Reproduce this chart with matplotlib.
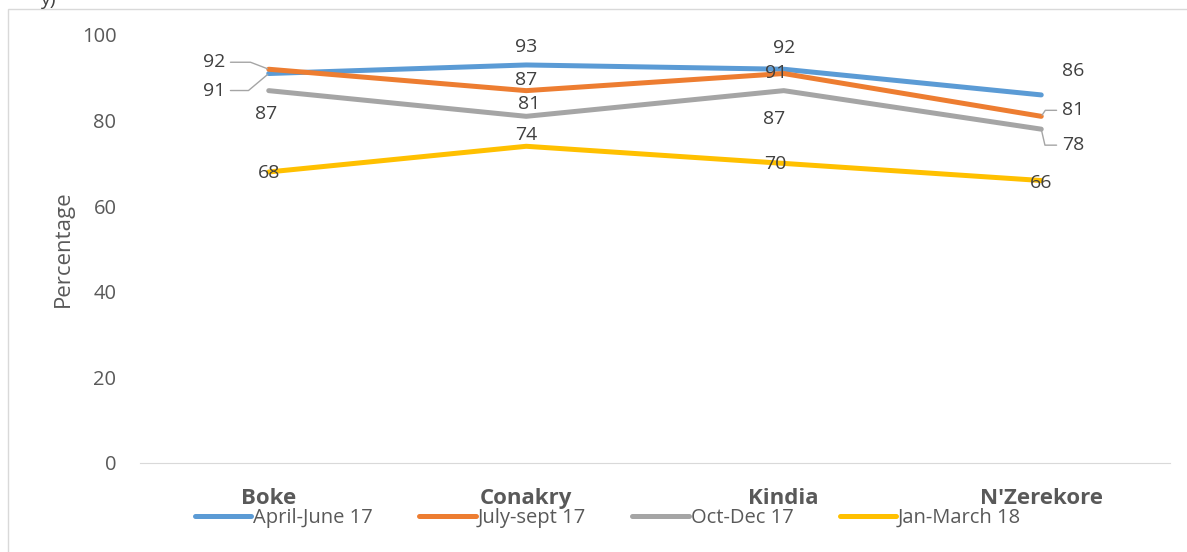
import numpy as np
import matplotlib.pyplot as plt
from matplotlib.patches import Rectangle

plt.rcParams['font.family'] = ['Open Sans', 'DejaVu Sans']

regions = ['Boke', 'Conakry', 'Kindia', "N'Zerekore"]
series_names = ['April-June 17', 'July-sept 17', 'Oct-Dec 17', 'Jan-March 18']
april_june = [91, 93, 92, 86]
july_sept = [92, 87, 91, 81]
oct_dec = [87, 81, 87, 78]
jan_march = [68, 74, 70, 66]

colors = ['#5B9BD5', '#ED7D31', '#A5A5A5', '#FFC000']
# label offsets in pixels (dx, dy) per point, plus leader line angle at the point (None = no leader)
offsets = [
    [(-55, -17, 40), (0, 18, None), (0, 21, None), (32, 24, None)],
    [(-55, 7, -21), (0, 11, None), (-8, 1, None), (32, 6, 56)],
    [(-3, -23, None), (3, 12, None), (-10, -28, None), (32, -16, -77)],
    [(0, -1, None), (0, 11, None), (-8, -1, None), (0, -2, None)],
]

txt = '#404040'
axc = '#595959'

fig = plt.figure(figsize=(11.87, 5.52), dpi=100)
ax = fig.add_axes([140 / 1187, 1 - 463 / 552, 1030 / 1187, 428 / 552])

x = np.arange(len(regions))
all_series = [april_june, july_sept, oct_dec, jan_march]
for vals, name, c in zip(all_series, series_names, colors):
    ax.plot(x, vals, color=c, lw=3.6, solid_capstyle='round',
            solid_joinstyle='round', label=name)

for vals, offs in zip(all_series, offsets):
    for xi, v, (dx, dy, lead) in zip(x, vals, offs):
        if lead is not None:
            ax.annotate(str(v), xy=(xi, v), xytext=(dx, dy), textcoords='offset pixels',
                        ha='center', va='center', fontsize=14, color=txt,
                        arrowprops=dict(arrowstyle='-', color='#A5A5A5', lw=1,
                                        shrinkA=2, shrinkB=1,
                                        connectionstyle='angle,angleA=0,angleB=%d,rad=0' % lead))
        else:
            ax.annotate(str(v), xy=(xi, v), xytext=(dx, dy), textcoords='offset pixels',
                        ha='center', va='center', fontsize=14, color=txt)

ax.set_xlim(-0.5, len(regions) - 0.5)
ax.set_ylim(0, 100)
ax.set_yticks(np.arange(0, 101, 20))
ax.set_xticks(x)
ax.set_xticklabels(regions, fontweight='bold', fontsize=16, color=axc)
ax.tick_params(axis='y', length=0, pad=17, labelsize=14.5, labelcolor=axc)
ax.tick_params(axis='x', length=0, pad=18)
for s in ['top', 'right', 'left']:
    ax.spines[s].set_visible(False)
ax.spines['bottom'].set_color('#D9D9D9')
ax.set_ylabel('Percentage', fontsize=16, color=axc, labelpad=6)

fig.legend(loc='center', ncol=4, bbox_to_anchor=(608 / 1187, 1 - 518 / 552),
           frameon=False, fontsize=14.5, handlelength=2.8, handletextpad=0.1,
           columnspacing=2.3, labelcolor=axc)

fig.patches.append(Rectangle((8 / 1187, -0.1), 1.2, 1.1 - 9 / 552,
                             transform=fig.transFigure, fill=False,
                             edgecolor='#D9D9D9', lw=1))
fig.text(40 / 1187, 1.0, 'y)', fontsize=14, color=txt, va='center')

fig.savefig('out.png', dpi=100)
